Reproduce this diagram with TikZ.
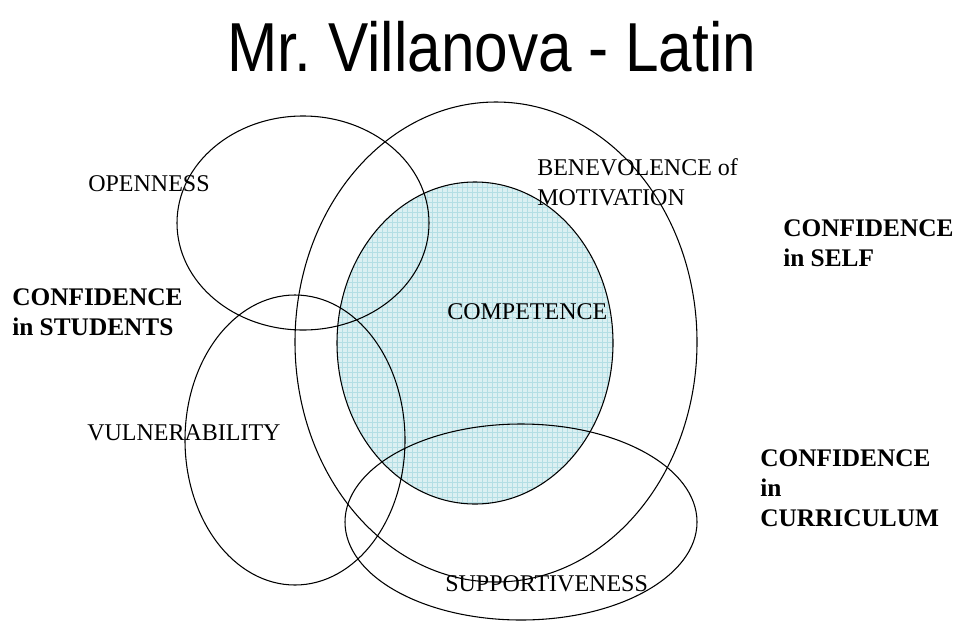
\documentclass[tikz,border=0pt]{standalone}
\usepackage{fontspec}
\setmainfont{Liberation Serif}
\newfontfamily\titlefont{Liberation Sans}
\usepackage{tikz}

\definecolor{compfill}{RGB}{220,240,242}
\definecolor{compgrid}{RGB}{180,222,228}

\begin{document}
\begin{tikzpicture}[x=0.75pt,y=-0.75pt,
    ring/.style={draw=black,line width=0.8pt},
    plain/.style={anchor=west,align=left,inner sep=0pt,font=\fontsize{18}{22.5}\selectfont},
    strong/.style={anchor=west,align=left,inner sep=0pt,font=\fontsize{19}{22.5}\selectfont\bfseries}]
        \useasboundingbox (0,0) rectangle (973,621);

        % Заголовок
        \node[xscale=0.87] (title) at (492,47)
            {\titlefont\fontsize{52}{60}\selectfont Mr.\ Villanova - Latin};

        % Заливка центрального эллипса
        \fill[compfill] (475,343) ellipse [x radius=138,y radius=161];
        \begin{scope}
            \clip (475,343) ellipse [x radius=138,y radius=161];
            \foreach \g in {0,5,...,330}
            {
                \draw[compgrid,line width=0.3pt] (337+\g,182) -- (337+\g,505);
                \draw[compgrid,line width=0.3pt] (337,182+\g) -- (614,182+\g);
            }
        \end{scope}

        % Контуры
        \draw[ring] (475,343) ellipse [x radius=138,y radius=161];
        \draw[ring] (496,342) ellipse [x radius=201,y radius=240];
        \draw[ring] (303,223) ellipse [x radius=126,y radius=107];
        \draw[ring] (295,440) ellipse [x radius=110,y radius=145];
        \draw[ring] (521,522) ellipse [x radius=176,y radius=98];

        % Подписи
        \node[plain] (open) at (88,184) {OPENNESS};
        \node[plain] (bene) at (537,182) {BENEVOLENCE of\\MOTIVATION};
        \node[plain] (comp) at (447,312) {COMPETENCE};
        \node[plain] (vuln) at (87,433) {VULNERABILITY};
        \node[plain] (supp) at (445,584) {SUPPORTIVENESS};

        \node[strong] (cstud) at (12,312) {CONFIDENCE\\in STUDENTS};
        \node[strong] (cself) at (783,243) {CONFIDENCE\\in SELF};
        \node[strong] (ccurr) at (760,488) {CONFIDENCE\\in\\CURRICULUM};
\end{tikzpicture}
\end{document}
